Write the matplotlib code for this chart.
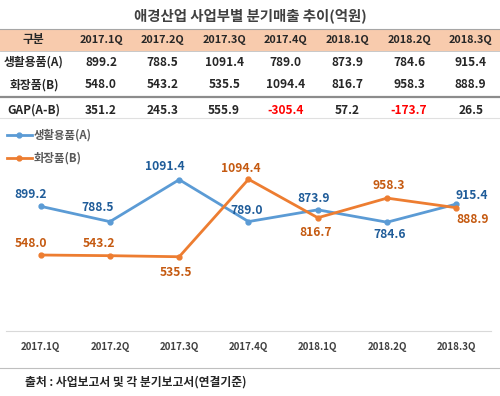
import matplotlib.pyplot as plt
from matplotlib.lines import Line2D
from matplotlib.patches import Rectangle

plt.rcParams['font.family'] = ['Noto Sans CJK KR', 'DejaVu Sans']

# data
quarters = ['2017.1Q', '2017.2Q', '2017.3Q', '2017.4Q', '2018.1Q', '2018.2Q', '2018.3Q']
living = [899.2, 788.5, 1091.4, 789.0, 873.9, 784.6, 915.4]      # 생활용품(A)
cosmetics = [548.0, 543.2, 535.5, 1094.4, 816.7, 958.3, 888.9]   # 화장품(B)
gap = [351.2, 245.3, 555.9, -305.4, 57.2, -173.7, 26.5]          # GAP(A-B)

title = '애경산업 사업부별 분기매출 추이(억원)'
row_names = ['생활용품(A)', '화장품(B)', 'GAP(A-B)']
source = '출처 : 사업보고서 및 각 분기보고서(연결기준)'

# label offsets in pixels (dx, dy up)
off_living = [(-10, 12), (-12, 14), (-14, 13), (-2, 11), (-4, 11), (3, -12), (15, 9)]
off_cosm = [(-10, 12), (-11, 12), (-3, -16), (-8, 11), (-2, -15), (2, 13), (16, -12)]

W, H = 500, 396
fig = plt.figure(figsize=(W / 100, H / 100), dpi=100)


def fx(x):
    return x / W


def fy(y):
    return 1 - y / H


def hline(y, x0, x1, color, lw):
    fig.add_artist(Line2D([fx(x0), fx(x1)], [fy(y), fy(y)], color=color, lw=lw,
                          transform=fig.transFigure))


# title
fig.text(fx(250), fy(16), title, ha='center', va='center', fontsize=10.4,
         fontweight='bold', color='#404040')

# table
fig.add_artist(Rectangle((0, fy(51)), 1, fy(29) - fy(51), transform=fig.transFigure,
                         facecolor='#F8CBAD', edgecolor='none'))
hline(29, 0, W, '#A6A6A6', 0.8)
hline(51, 0, W, '#BFBFBF', 0.6)
hline(97, 0, W, '#8C8C8C', 1.6)
hline(118, 0, W, '#E0E0E0', 0.8)

col_x = [101 + 61.6 * i for i in range(len(quarters))]
fig.text(fx(33), fy(40), '구분', ha='center', va='center', fontsize=8.5,
         fontweight='bold', color='#262626')
for x, q in zip(col_x, quarters):
    fig.text(fx(x), fy(40), q, ha='center', va='center', fontsize=7.8,
             fontweight='bold', color='#262626')

row_y = [62, 85, 110]
rows = [living, cosmetics, gap]
for y, name, vals in zip(row_y, row_names, rows):
    fig.text(fx(34), fy(y), name, ha='center', va='center', fontsize=8.5,
             fontweight='bold', color='#262626')
    for x, v in zip(col_x, vals):
        c = '#FF0000' if v < 0 else '#262626'
        fig.text(fx(x), fy(y), f'{v:.1f}', ha='center', va='center', fontsize=8.6,
                 fontweight='bold', color=c)

# line chart
ax = fig.add_axes([fx(6), fy(331), 485 / W, (331 - 123) / H])
xs = range(len(quarters))
ax.plot(xs, living, color='#5B9BD5', lw=2, marker='o', ms=3.5, label='생활용품(A)')
ax.plot(xs, cosmetics, color='#ED7D31', lw=2, marker='o', ms=3.5, label='화장품(B)')
ax.set_xlim(-0.5, len(quarters) - 0.5)
ax.set_ylim(0, 1500)
ax.set_yticks([])
ax.set_xticks(list(xs))
ax.set_xticklabels(quarters, fontsize=7, fontweight='bold', color='#404040')
ax.tick_params(axis='x', length=0, pad=8)
for s in ['top', 'right', 'left']:
    ax.spines[s].set_visible(False)
ax.spines['bottom'].set_color('#D9D9D9')
ax.patch.set_alpha(0)

for i, v in enumerate(living):
    dx, dy = off_living[i]
    ax.annotate(f'{v:.1f}', (i, v), xytext=(dx * 0.72, dy * 0.72),
                textcoords='offset points', ha='center', va='center',
                fontsize=8.7, fontweight='bold', color='#1F5C99')
for i, v in enumerate(cosmetics):
    dx, dy = off_cosm[i]
    ax.annotate(f'{v:.1f}', (i, v), xytext=(dx * 0.72, dy * 0.72),
                textcoords='offset points', ha='center', va='center',
                fontsize=8.7, fontweight='bold', color='#C55A11')

leg = fig.legend(loc='upper left', bbox_to_anchor=(fx(2), fy(124)), frameon=False,
                 fontsize=8.2, handlelength=2.2, handletextpad=0.15, labelspacing=0.9,
                 borderaxespad=0)
for t in leg.get_texts():
    t.set_color('#595959')
    t.set_fontweight('bold')

# bottom rule and source
hline(368, 0, W, '#BFBFBF', 0.8)
fig.text(fx(25), fy(382), source, ha='left', va='center', fontsize=8.5,
         fontweight='bold', color='#262626')

fig.savefig('out.png', dpi=100)
